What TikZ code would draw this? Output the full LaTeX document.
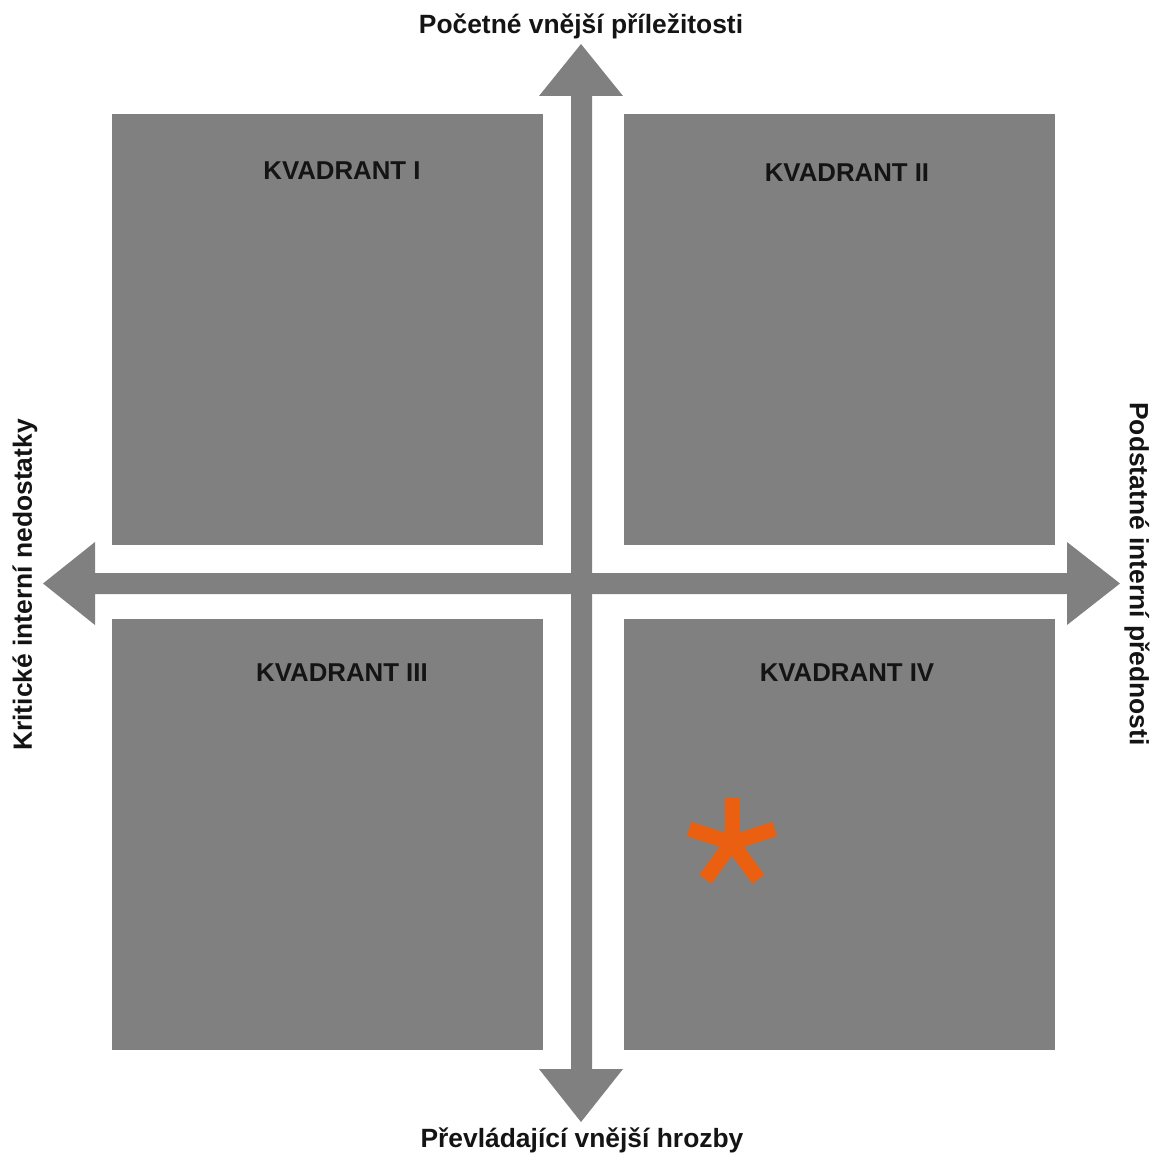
\documentclass[tikz,border=0pt]{standalone}
\usepackage{fontspec}
\setmainfont{Liberation Sans}
\usepackage{tikz}
\usetikzlibrary{calc}

\definecolor{quadgray}{RGB}{128,128,128}
\definecolor{starorange}{RGB}{234,96,16}
\definecolor{labelblack}{RGB}{20,20,20}

\begin{document}
\begin{tikzpicture}[x=0.5pt, y=-0.5pt,
    quad/.style={fill=quadgray, draw=none},
    axisarrow/.style={fill=quadgray, draw=none},
    quadlabel/.style={font=\bfseries\fontsize{12.9}{14}\selectfont, text=labelblack, inner sep=0pt},
    axislabel/.style={font=\bfseries\fontsize{13.2}{15}\selectfont, text=labelblack, inner sep=0pt}]
    \useasboundingbox (0,0) rectangle (1156,1155);
    % quadrants
    \fill[quad] (112,114) rectangle (543,545);
    \fill[quad] (624,114) rectangle (1055,545);
    \fill[quad] (112,619) rectangle (543,1050);
    \fill[quad] (624,619) rectangle (1055,1050);
    \node[quadlabel] (q1) at (342,171) {KVADRANT I};
    \node[quadlabel] (q2) at (847,173) {KVADRANT II};
    \node[quadlabel] (q3) at (342,673) {KVADRANT III};
    \node[quadlabel] (q4) at (847,673) {KVADRANT IV};
    % vertical axis
    \fill[axisarrow] (571,96) -- (539,96) -- (581,44) -- (623,96) -- (592,96)
        -- (592,1069) -- (623,1069) -- (581,1122) -- (539,1069) -- (571,1069) -- cycle;
    % horizontal axis
    \fill[axisarrow] (95,573) -- (95,542) -- (43,583.5) -- (95,625) -- (95,594)
        -- (1067,594) -- (1067,625) -- (1120,583.5) -- (1067,542) -- (1067,573) -- cycle;
    % axis labels
    \node[axislabel] (top) at (581,26) {Početné vnější příležitosti};
    \node[axislabel] (bottom) at (582,1140) {Převládající vnější hrozby};
    \node[axislabel, rotate=90] (left) at (25,585) {Kritické interní nedostatky};
    \node[axislabel, rotate=-90] (right) at (1137,574) {Podstatné interní přednosti};
    % marker
    \coordinate (star) at (732,843);
    \foreach \a in {90,162,234,306,378}
        \draw[starorange, line width=7.5pt] (star) -- ++({45*cos(\a)},{-45*sin(\a)});
\end{tikzpicture}
\end{document}
